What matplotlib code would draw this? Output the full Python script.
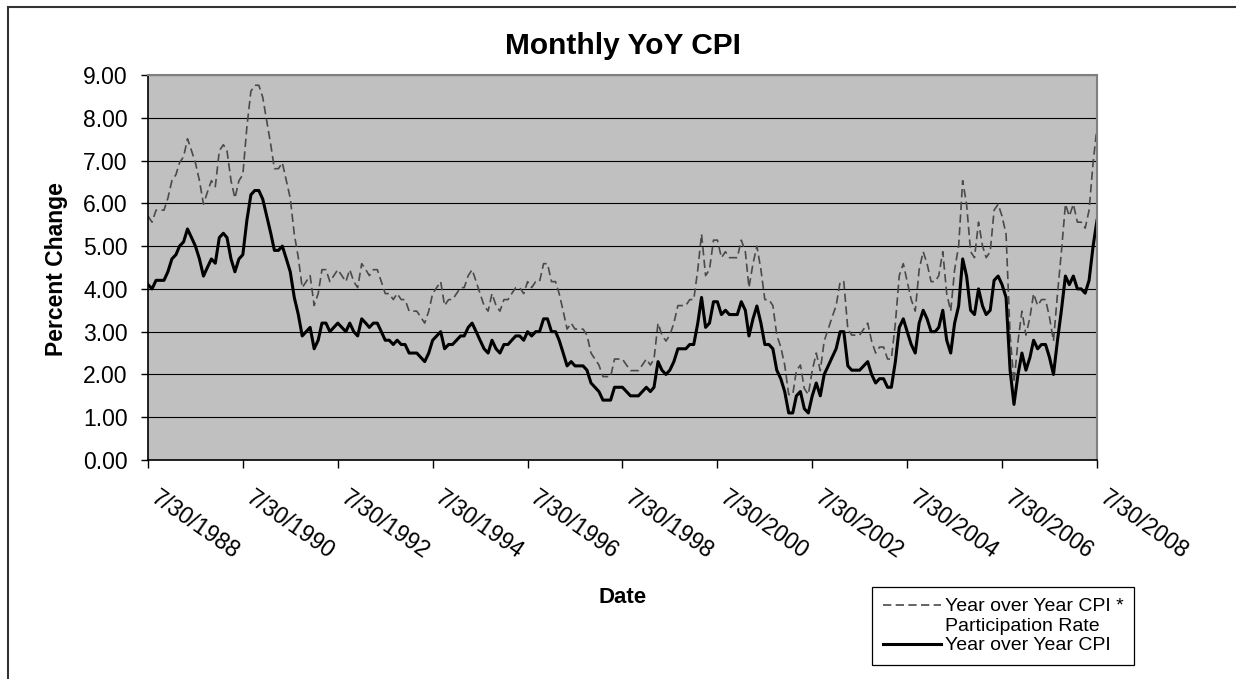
import numpy as np
import matplotlib
matplotlib.use("Agg")
import matplotlib.pyplot as plt
import matplotlib.transforms as mtransforms
from matplotlib.lines import Line2D
from matplotlib.patches import Rectangle

plt.rcParams['font.family'] = ['Liberation Sans', 'DejaVu Sans']

# monthly, 7/1988 .. 7/2008
months = np.arange('1988-07', '2008-08', dtype='datetime64[M]')

# Year over Year CPI (percent)
cpi = [
    4.1, 4.0, 4.2, 4.2, 4.2, 4.4,
    4.7, 4.8, 5.0, 5.1, 5.4, 5.2, 5.0, 4.7, 4.3, 4.5, 4.7, 4.6,
    5.2, 5.3, 5.2, 4.7, 4.4, 4.7, 4.8, 5.6, 6.2, 6.3, 6.3, 6.1,
    5.7, 5.3, 4.9, 4.9, 5.0, 4.7, 4.4, 3.8, 3.4, 2.9, 3.0, 3.1,
    2.6, 2.8, 3.2, 3.2, 3.0, 3.1, 3.2, 3.1, 3.0, 3.2, 3.0, 2.9,
    3.3, 3.2, 3.1, 3.2, 3.2, 3.0, 2.8, 2.8, 2.7, 2.8, 2.7, 2.7,
    2.5, 2.5, 2.5, 2.4, 2.3, 2.5, 2.8, 2.9, 3.0, 2.6, 2.7, 2.7,
    2.8, 2.9, 2.9, 3.1, 3.2, 3.0, 2.8, 2.6, 2.5, 2.8, 2.6, 2.5,
    2.7, 2.7, 2.8, 2.9, 2.9, 2.8, 3.0, 2.9, 3.0, 3.0, 3.3, 3.3,
    3.0, 3.0, 2.8, 2.5, 2.2, 2.3, 2.2, 2.2, 2.2, 2.1, 1.8, 1.7,
    1.6, 1.4, 1.4, 1.4, 1.7, 1.7, 1.7, 1.6, 1.5, 1.5, 1.5, 1.6,
    1.7, 1.6, 1.7, 2.3, 2.1, 2.0, 2.1, 2.3, 2.6, 2.6, 2.6, 2.7,
    2.7, 3.2, 3.8, 3.1, 3.2, 3.7, 3.7, 3.4, 3.5, 3.4, 3.4, 3.4,
    3.7, 3.5, 2.9, 3.3, 3.6, 3.2, 2.7, 2.7, 2.6, 2.1, 1.9, 1.6,
    1.1, 1.1, 1.5, 1.6, 1.2, 1.1, 1.5, 1.8, 1.5, 2.0, 2.2, 2.4,
    2.6, 3.0, 3.0, 2.2, 2.1, 2.1, 2.1, 2.2, 2.3, 2.0, 1.8, 1.9,
    1.9, 1.7, 1.7, 2.3, 3.1, 3.3, 3.0, 2.7, 2.5, 3.2, 3.5, 3.3,
    3.0, 3.0, 3.1, 3.5, 2.8, 2.5, 3.2, 3.6, 4.7, 4.3, 3.5, 3.4,
    4.0, 3.6, 3.4, 3.5, 4.2, 4.3, 4.1, 3.8, 2.1, 1.3, 2.0, 2.5,
    2.1, 2.4, 2.8, 2.6, 2.7, 2.7, 2.4, 2.0, 2.8, 3.5, 4.3, 4.1,
    4.3, 4.0, 4.0, 3.9, 4.2, 5.0, 5.6,
]

# Year over Year CPI * Participation Rate
cpi_part = [
    5.70, 5.56, 5.84, 5.84, 5.84, 6.12,
    6.53, 6.67, 6.95, 7.09, 7.51, 7.23, 6.95, 6.53, 5.98, 6.26, 6.53, 6.39,
    7.23, 7.37, 7.23, 6.53, 6.12, 6.53, 6.67, 7.78, 8.62, 8.76, 8.76, 8.48,
    7.92, 7.37, 6.81, 6.81, 6.95, 6.53, 6.12, 5.28, 4.73, 4.03, 4.17, 4.31,
    3.61, 3.89, 4.45, 4.45, 4.17, 4.31, 4.45, 4.31, 4.17, 4.45, 4.17, 4.03,
    4.59, 4.45, 4.31, 4.45, 4.45, 4.17, 3.89, 3.89, 3.75, 3.89, 3.75, 3.75,
    3.48, 3.48, 3.48, 3.34, 3.20, 3.48, 3.89, 4.03, 4.17, 3.61, 3.75, 3.75,
    3.89, 4.03, 4.03, 4.31, 4.45, 4.17, 3.89, 3.61, 3.48, 3.89, 3.61, 3.48,
    3.75, 3.75, 3.89, 4.03, 4.03, 3.89, 4.17, 4.03, 4.17, 4.17, 4.59, 4.59,
    4.17, 4.17, 3.89, 3.48, 3.06, 3.20, 3.06, 3.06, 3.06, 2.92, 2.50, 2.36,
    2.22, 1.95, 1.95, 1.95, 2.36, 2.36, 2.36, 2.22, 2.09, 2.09, 2.09, 2.22,
    2.36, 2.22, 2.36, 3.20, 2.92, 2.78, 2.92, 3.20, 3.61, 3.61, 3.61, 3.75,
    3.75, 4.45, 5.28, 4.31, 4.45, 5.14, 5.14, 4.73, 4.87, 4.73, 4.73, 4.73,
    5.14, 4.87, 4.03, 4.59, 5.00, 4.45, 3.75, 3.75, 3.61, 2.92, 2.64, 2.22,
    1.53, 1.53, 2.09, 2.22, 1.67, 1.53, 2.09, 2.50, 2.09, 2.78, 3.06, 3.34,
    3.61, 4.17, 4.17, 3.06, 2.92, 2.92, 2.92, 3.06, 3.20, 2.78, 2.50, 2.64,
    2.64, 2.36, 2.36, 3.20, 4.31, 4.59, 4.17, 3.75, 3.48, 4.45, 4.87, 4.59,
    4.17, 4.17, 4.31, 4.87, 3.89, 3.48, 4.45, 5.00, 6.53, 5.98, 4.87, 4.73,
    5.56, 5.00, 4.73, 4.87, 5.84, 5.98, 5.70, 5.28, 2.92, 1.81, 2.78, 3.48,
    2.92, 3.34, 3.89, 3.61, 3.75, 3.75, 3.34, 2.78, 3.89, 4.87, 5.98, 5.70,
    5.98, 5.56, 5.56, 5.42, 5.84, 6.95, 7.78,
]

tick_labels = ['7/30/1988', '7/30/1990', '7/30/1992', '7/30/1994', '7/30/1996',
               '7/30/1998', '7/30/2000', '7/30/2002', '7/30/2004', '7/30/2006',
               '7/30/2008']

W, H = 1236, 679
fig = plt.figure(figsize=(W / 100, H / 100), dpi=100)
ax = fig.add_axes([148 / W, 1 - 460 / H, (1097 - 148) / W, (460 - 75) / H])
ax.set_facecolor('#C0C0C0')

dash_line, = ax.plot(months, cpi_part, color='#4a4a4a', lw=1.2, dashes=(5, 2.6))
solid_line, = ax.plot(months, cpi, color='black', lw=2.2)

ax.set_xlim(months[0], months[-1])
ax.set_ylim(0, 9)
ax.set_yticks(np.arange(0, 10))
ax.set_yticklabels([f'{v:.2f}' for v in range(10)])
ax.set_xticks(months[::24])
ax.set_xticklabels(tick_labels)
ax.yaxis.grid(True, color='black', lw=0.8)
ax.set_axisbelow(True)

ax.tick_params(axis='y', direction='out', length=5, width=1, pad=9.5, labelsize=16.5)
ax.tick_params(axis='x', direction='out', length=6, width=1, pad=13, labelsize=16.5)
offset = mtransforms.ScaledTranslation(12 / 100, 0, fig.dpi_scale_trans)
for lab in ax.get_xticklabels():
    lab.set_rotation(-35)
    lab.set_ha('left')
    lab.set_va('top')
    lab.set_rotation_mode('anchor')
    lab.set_transform(lab.get_transform() + offset)

for side in ['left', 'bottom']:
    ax.spines[side].set_color('black')
    ax.spines[side].set_linewidth(1.2)
for side in ['top', 'right']:
    ax.spines[side].set_color('#808080')
    ax.spines[side].set_linewidth(1.5)

ax.set_title('Monthly YoY CPI', fontsize=21.5, fontweight='bold', pad=15)
fig.text(622.5 / W, 1 - 603 / H, 'Date', ha='center', va='baseline',
         fontsize=16, fontweight='bold')
fig.text(56 / W, 1 - 269 / H, 'Percent Change', ha='center', va='center',
         rotation=90, fontsize=16.5, fontweight='bold')

blank = Line2D([], [], color='none')
leg = ax.legend([dash_line, blank, solid_line],
                ['Year over Year CPI *', 'Participation Rate', 'Year over Year CPI'],
                loc='upper left', bbox_to_anchor=(872 / W, 1 - 587 / H),
                bbox_transform=fig.transFigure, fancybox=False, edgecolor='black',
                framealpha=1, fontsize=14, handlelength=3.0, handletextpad=0.2,
                labelspacing=0.1, borderpad=0.55, borderaxespad=0)
leg.get_frame().set_linewidth(0.9)

# chart area border (cut off at right and bottom)
fig.patches.append(Rectangle((7.5 / W, -0.1), 1.2, 1.1 - 7.5 / H,
                             transform=fig.transFigure, fill=False,
                             edgecolor='#333333', lw=1.5))

fig.savefig('out.png', dpi=100)
